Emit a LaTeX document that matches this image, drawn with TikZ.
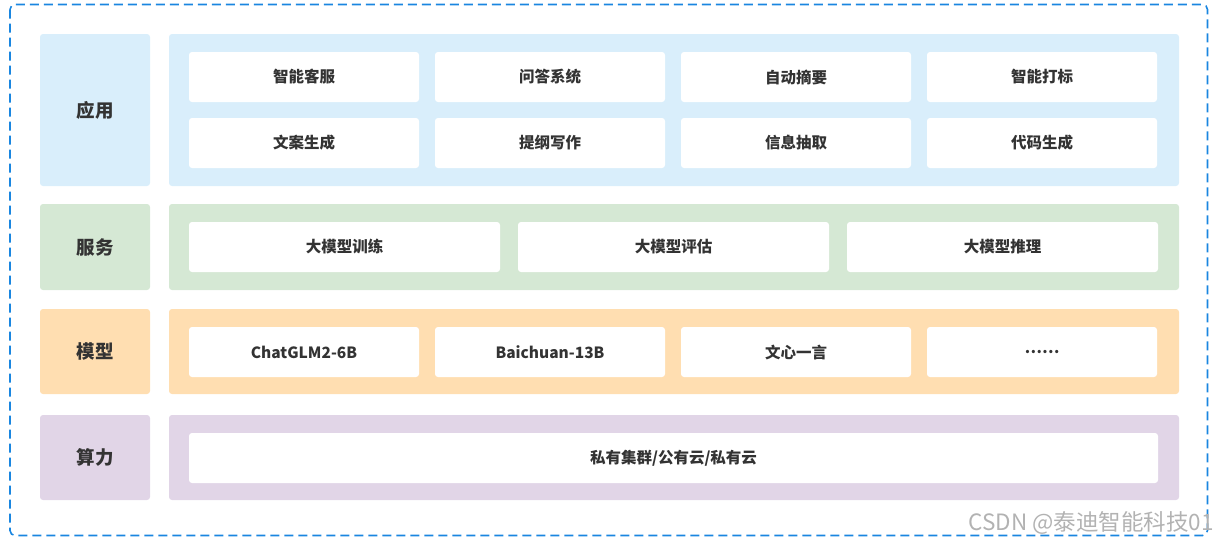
\documentclass[tikz,border=0pt]{standalone}
\usepackage{fontspec}
\setmainfont{Noto Sans CJK SC}
\definecolor{appblue}{HTML}{D9EEFB}
\definecolor{svcgreen}{HTML}{D5E8D4}
\definecolor{mdlorange}{HTML}{FFDEB1}
\definecolor{hwpurple}{HTML}{E1D5E7}
\definecolor{frameblue}{HTML}{1A86E0}
\definecolor{txtgray}{HTML}{333333}

\begin{document}
\begin{tikzpicture}[
    x=1pt, y=-1pt,
    every node/.style={inner sep=0pt, align=center, text=txtgray, font=\bfseries},
    layerlabel/.style={rounded corners=3pt, minimum width=110pt, font=\fontsize{18.5}{18.5}\selectfont\bfseries},
    layerpanel/.style={rounded corners=3pt, minimum width=1010pt},
    itembox/.style={fill=white, rounded corners=3pt, minimum height=50pt, font=\fontsize{15.5}{15.5}\selectfont\bfseries},
    quarter/.style={itembox, minimum width=230pt},
    third/.style={itembox, minimum width=311pt}
]
\useasboundingbox (0,0) rectangle (1218,544);

% frame
\draw[frameblue, line width=1.6pt, dash pattern=on 9pt off 5pt, rounded corners=5pt]
    (10,4.5) rectangle (1207.5,535.5);

% layer labels
\node[layerlabel, fill=appblue,   minimum height=152pt] (app)   at (95,110)   {应用};
\node[layerlabel, fill=svcgreen,  minimum height=86pt]  (svc)   at (95,247)   {服务};
\node[layerlabel, fill=mdlorange, minimum height=85pt]  (mdl)   at (95,351.5) {模型};
\node[layerlabel, fill=hwpurple,  minimum height=85pt]  (power) at (95,457.5) {算力};

% layer panels
\node[layerpanel, fill=appblue,   minimum height=152pt] (appP)   at (674,110)   {};
\node[layerpanel, fill=svcgreen,  minimum height=86pt]  (svcP)   at (674,247)   {};
\node[layerpanel, fill=mdlorange, minimum height=85pt]  (mdlP)   at (674,351.5) {};
\node[layerpanel, fill=hwpurple,  minimum height=85pt]  (powerP) at (674,457.5) {};

% application
\node[quarter] (kefu)    at (304,77)  {智能客服};
\node[quarter] (wenda)   at (550,77)  {问答系统};
\node[quarter] (zhaiyao) at (796,77)  {自动摘要};
\node[quarter] (dabiao)  at (1042,77) {智能打标};
\node[quarter] (wenan)   at (304,143)  {文案生成};
\node[quarter] (tigang)  at (550,143)  {提纲写作};
\node[quarter] (chouqu)  at (796,143)  {信息抽取};
\node[quarter] (daima)   at (1042,143) {代码生成};

% service
\node[third] (train) at (344.5,247)  {大模型训练};
\node[third] (eval)  at (673.5,247)  {大模型评估};
\node[third] (infer) at (1002.5,247) {大模型推理};

% model
\node[quarter] (chatglm)   at (304,352)  {ChatGLM2-6B};
\node[quarter] (baichuan)  at (550,352)  {Baichuan-13B};
\node[quarter] (wenxin)    at (796,352)  {文心一言};
\node[quarter] (moremodel) at (1042,352) {……};

% compute
\node[itembox, minimum width=969pt] (cloud) at (673.5,458) {私有集群/公有云/私有云};

% watermark
\node[anchor=east, text=black!30, font=\fontsize{22.5}{22.5}\selectfont] (mark) at (1214,523) {CSDN @泰迪智能科技01};
\end{tikzpicture}
\end{document}
